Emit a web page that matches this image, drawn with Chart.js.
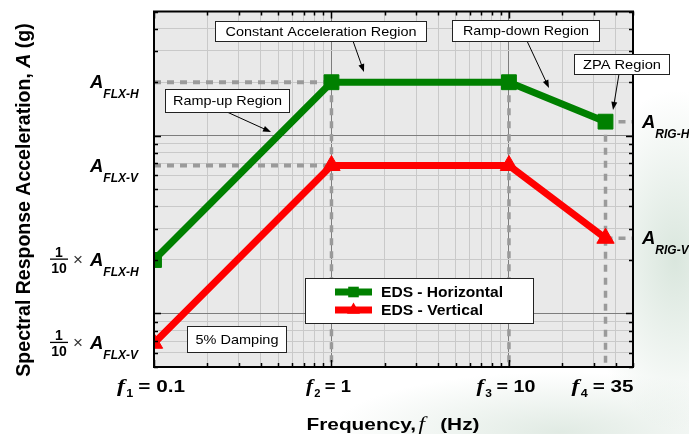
<!DOCTYPE html>
<html>
<head>
<meta charset="utf-8">
<script src="https://cdn.jsdelivr.net/npm/chart.js@4.4.0/dist/chart.umd.min.js"></script>
<style>
html, body { margin: 0; padding: 0; background: #fff; }
#wrap {
  position: relative; width: 689px; height: 434px;
  background:
    radial-gradient(ellipse 90px 170px at 675px 260px, rgba(205,222,210,0.75), rgba(255,255,255,0) 100%),
    radial-gradient(ellipse 230px 60px at 560px 432px, rgba(212,226,216,0.7), rgba(255,255,255,0) 100%),
    #fff;
}
</style>
</head>
<body>
<div id="wrap"><canvas id="rrs"></canvas></div>
<script>
// corner frequencies f1..f4 (Hz)
var freqs = [0.1, 1, 10, 35];
var freqNames = ['1', '2', '3', '4'];
var freqText = ['0.1', '1', '10', '35'];
// spectral acceleration (g) at f1..f4
var horizontal = [0.2, 2, 2, 1.2];
var vertical = [0.068, 0.68, 0.68, 0.265];
// axis limits
var xMin = 0.1, xMax = 50;
var yMin = 0.05, yMax = 5;

var SANS = '"Liberation Sans", Arial, sans-serif';
var SERIF = '"Liberation Serif", "Times New Roman", serif';
var GREEN = '#008000', RED = '#ff0000', DASH = '#9a9a9a';

function pts(xs, ys) { return xs.map(function (x, i) { return { x: x, y: ys[i] }; }); }

function decadeTicks(min, max) {
  var out = [];
  for (var e = Math.floor(Math.log10(min)); e <= Math.ceil(Math.log10(max)); e++) {
    for (var m = 1; m <= 9; m++) {
      var v = parseFloat((m * Math.pow(10, e)).toPrecision(6));
      if (v >= min * 0.9999 && v <= max * 1.0001) out.push({ value: v });
    }
  }
  return out;
}
function isDecade(v) { var l = Math.log10(v); return Math.abs(l - Math.round(l)) < 1e-6; }

function refLine(data, w) {
  return { data: data, borderColor: DASH, borderWidth: w, borderDash: [7, 6], pointRadius: 0 };
}

var datasets = [
  { label: 'EDS - Horizontal', data: pts(freqs, horizontal), borderColor: GREEN, backgroundColor: GREEN,
    borderWidth: 7, pointStyle: 'rect', pointRadius: 10.5, pointBorderWidth: 1 },
  { label: 'EDS - Vertical', data: pts(freqs, vertical), borderColor: RED, backgroundColor: RED,
    borderWidth: 7, pointStyle: 'triangle', pointRadius: 10, pointBorderWidth: 1 },
  refLine([{ x: xMin, y: horizontal[1] }, { x: freqs[1], y: horizontal[1] }], 4),
  refLine([{ x: xMin, y: vertical[1] }, { x: freqs[1], y: vertical[1] }], 4),
  refLine([{ x: freqs[1], y: horizontal[1] }, { x: freqs[1], y: yMin }], 3.5),
  refLine([{ x: freqs[2], y: horizontal[2] }, { x: freqs[2], y: yMin }], 3.5),
  refLine([{ x: freqs[3], y: horizontal[3] }, { x: freqs[3], y: yMin }], 3.5),
  refLine([{ x: freqs[3], y: horizontal[3] }, { x: xMax, y: horizontal[3] }], 3.5),
  refLine([{ x: freqs[3], y: vertical[3] }, { x: xMax, y: vertical[3] }], 3.5)
];

// acceleration labels beside the axes
var leftLabels = [
  { sub: 'FLX-H', value: horizontal[1], tenth: false },
  { sub: 'FLX-V', value: vertical[1], tenth: false },
  { sub: 'FLX-H', value: horizontal[0], tenth: true },
  { sub: 'FLX-V', value: vertical[0], tenth: true }
];
var rightLabels = [
  { sub: 'RIG-H', value: horizontal[3] },
  { sub: 'RIG-V', value: vertical[3] }
];

// callout boxes (pixel layout): box [x, y, w, h], text width, arrow [x1, y1, x2, y2]
var callouts = [
  { text: 'Constant Acceleration Region', box: [215, 21, 211, 20], tw: 191, arrow: [353, 41, 364, 72] },
  { text: 'Ramp-up Region', box: [165, 89, 124, 23], tw: 109, arrow: [227, 112, 271, 132] },
  { text: 'Ramp-down Region', box: [452, 20, 147, 21], tw: 126, arrow: [527, 41, 549, 88] },
  { text: 'ZPA Region', box: [574, 54, 95, 20], tw: 78, arrow: [619, 74, 613, 110] },
  { text: '5% Damping', box: [187, 326, 99, 26], tw: 83, arrow: null }
];

function runsWidth(ctx, runs) {
  var w = 0;
  runs.forEach(function (r) { ctx.font = r.font; w += ctx.measureText(r.text).width + (r.gap || 0); });
  return w;
}
function drawRuns(ctx, x, y, runs) {
  runs.forEach(function (r) {
    ctx.font = r.font;
    ctx.fillText(r.text, x, y + (r.dy || 0));
    x += ctx.measureText(r.text).width + (r.gap || 0);
  });
  return x;
}
// draw runs centred on cx, stretched horizontally to a given width
function drawStretched(ctx, cx, y, runs, width) {
  var w = runsWidth(ctx, runs), sx = width / w;
  ctx.save();
  ctx.translate(cx, y); ctx.scale(sx, 1);
  drawRuns(ctx, -w / 2, 0, runs);
  ctx.restore();
}

function drawArrow(ctx, a) {
  var x1 = a[0], y1 = a[1], x2 = a[2], y2 = a[3];
  var ang = Math.atan2(y2 - y1, x2 - x1), L = 8, W = 3;
  ctx.strokeStyle = '#000'; ctx.lineWidth = 1;
  ctx.beginPath(); ctx.moveTo(x1, y1);
  ctx.lineTo(x2 - Math.cos(ang) * L * 0.8, y2 - Math.sin(ang) * L * 0.8); ctx.stroke();
  ctx.fillStyle = '#000';
  ctx.beginPath();
  ctx.moveTo(x2, y2);
  ctx.lineTo(x2 - Math.cos(ang) * L + Math.sin(ang) * W, y2 - Math.sin(ang) * L - Math.cos(ang) * W);
  ctx.lineTo(x2 - Math.cos(ang) * L - Math.sin(ang) * W, y2 - Math.sin(ang) * L + Math.cos(ang) * W);
  ctx.closePath(); ctx.fill();
}

function drawALabel(ctx, x, y, sub) {
  return drawRuns(ctx, x, y + 6, [
    { text: 'A', font: 'italic bold 18.5px ' + SANS },
    { text: sub, font: 'italic bold 12px ' + SANS, dy: 10 }
  ]);
}

var decor = {
  id: 'decor',
  beforeDraw: function (chart) {
    var a = chart.chartArea, ctx = chart.ctx;
    ctx.save(); ctx.fillStyle = '#e9e9e9';
    ctx.fillRect(a.left, a.top, a.right - a.left, a.bottom - a.top);
    ctx.restore();
  },
  afterDraw: function (chart) {
    var a = chart.chartArea, ctx = chart.ctx, xs = chart.scales.x, ys = chart.scales.y;
    ctx.save();
    // inward tick marks on all four sides
    ctx.strokeStyle = '#000'; ctx.lineWidth = 1.5;
    ctx.beginPath();
    decadeTicks(xMin, xMax).forEach(function (t) {
      var px = Math.round(xs.getPixelForValue(t.value)) + 0.5, len = isDecade(t.value) ? 7 : 4;
      ctx.moveTo(px, a.bottom); ctx.lineTo(px, a.bottom - len);
      ctx.moveTo(px, a.top); ctx.lineTo(px, a.top + len);
    });
    decadeTicks(yMin, yMax).forEach(function (t) {
      var py = Math.round(ys.getPixelForValue(t.value)) + 0.5, len = isDecade(t.value) ? 7 : 4;
      ctx.moveTo(a.left, py); ctx.lineTo(a.left + len, py);
      ctx.moveTo(a.right, py); ctx.lineTo(a.right - len, py);
    });
    ctx.stroke();
    // frame
    ctx.lineWidth = 2;
    ctx.strokeRect(a.left, a.top, a.right - a.left, a.bottom - a.top);

    ctx.fillStyle = '#000'; ctx.textBaseline = 'alphabetic'; ctx.textAlign = 'left';
    // left acceleration labels
    leftLabels.forEach(function (l) {
      var py = ys.getPixelForValue(l.value);
      if (l.tenth) {
        ctx.font = 'bold 14px ' + SANS; ctx.textAlign = 'center';
        ctx.fillText('1', 59, py - 3);
        ctx.fillText('10', 59, py + 13);
        ctx.fillRect(50, py - 1.5, 18, 1.3);
        ctx.font = '17px ' + SANS; ctx.fillStyle = '#333';
        ctx.fillText('\u00d7', 78, py + 5);
        ctx.fillStyle = '#000'; ctx.textAlign = 'left';
      }
      drawALabel(ctx, 90, py, l.sub);
    });
    // right acceleration labels
    rightLabels.forEach(function (l) {
      drawALabel(ctx, 642, ys.getPixelForValue(l.value), l.sub);
    });
    // frequency labels
    var labelWidths = [68, 45, 59, 62];
    freqs.forEach(function (f, i) {
      var runs = [
        { text: 'f', font: 'italic bold 19px ' + SERIF, gap: 1 },
        { text: freqNames[i], font: 'bold 10px ' + SANS, dy: 5, gap: 4 },
        { text: '= ' + freqText[i], font: 'bold 16.5px ' + SANS }
      ];
      drawStretched(ctx, xs.getPixelForValue(f) - 3, 392, runs, labelWidths[i]);
    });
    // x axis title
    drawStretched(ctx, 393, 430, [
      { text: 'Frequency,', font: 'bold 17px ' + SANS, gap: 2 },
      { text: 'f', font: 'italic 19px ' + SERIF, gap: 3 },
      { text: '  (Hz)', font: 'bold 17px ' + SANS }
    ], 173);
    // y axis title
    ctx.save();
    ctx.translate(30, 200); ctx.rotate(-Math.PI / 2);
    var yr = [
      { text: 'Spectral Response Acceleration, ', font: 'bold 17px ' + SANS },
      { text: 'A', font: 'italic bold 17px ' + SANS },
      { text: ' (g)', font: 'bold 17px ' + SANS }
    ];
    var k = 354 / runsWidth(ctx, yr);
    yr.forEach(function (r) { r.font = r.font.replace('17px', (17 * k).toFixed(1) + 'px'); });
    drawRuns(ctx, -runsWidth(ctx, yr) / 2, 0, yr);
    ctx.restore();

    // callouts
    callouts.forEach(function (c) {
      var b = c.box;
      if (c.arrow) drawArrow(ctx, c.arrow);
      ctx.fillStyle = '#fff'; ctx.fillRect(b[0], b[1], b[2], b[3]);
      ctx.strokeStyle = '#222'; ctx.lineWidth = 1;
      ctx.strokeRect(b[0] + 0.5, b[1] + 0.5, b[2], b[3]);
      ctx.fillStyle = '#000'; ctx.textBaseline = 'middle';
      drawStretched(ctx, b[0] + b[2] / 2 + 0.5, b[1] + b[3] / 2 + 1,
        [{ text: c.text, font: '13px ' + SANS }], c.tw);
    });

    // legend
    ctx.fillStyle = '#fff'; ctx.fillRect(305, 278, 228, 45);
    ctx.strokeStyle = '#222'; ctx.lineWidth = 1; ctx.strokeRect(305.5, 278.5, 228, 45);
    var legendWidths = [122, 102];
    [0, 1].forEach(function (i) {
      var ds = chart.data.datasets[i], yy = i === 0 ? 292 : 310;
      ctx.strokeStyle = ds.borderColor; ctx.lineWidth = 7;
      ctx.beginPath(); ctx.moveTo(335, yy); ctx.lineTo(372, yy); ctx.stroke();
      ctx.fillStyle = ds.backgroundColor;
      Chart.helpers.drawPoint(ctx, { pointStyle: ds.pointStyle, radius: 7.5, borderWidth: 0, rotation: 0 }, 353.5, yy);
      ctx.fillStyle = '#000'; ctx.textBaseline = 'middle';
      drawStretched(ctx, 381 + legendWidths[i] / 2, yy + 1,
        [{ text: ds.label, font: 'bold 14.5px ' + SANS }], legendWidths[i]);
    });
    ctx.restore();
  }
};

function axis(min, max) {
  return {
    type: 'logarithmic', min: min, max: max,
    afterBuildTicks: function (s) { s.ticks = decadeTicks(min, max); },
    ticks: { display: false },
    border: { display: false },
    grid: {
      drawTicks: false, lineWidth: 1,
      color: function (c) { return c.tick && isDecade(c.tick.value) ? '#7d7d7d' : '#c9c9c9'; }
    }
  };
}

new Chart(document.getElementById('rrs'), {
  type: 'line',
  data: { datasets: datasets },
  plugins: [decor],
  options: {
    responsive: true,
    maintainAspectRatio: false,
    animation: false,
    parsing: false,
    layout: { padding: { left: 154, right: 56, top: 7, bottom: 67 } },
    plugins: { legend: { display: false }, tooltip: { enabled: false } },
    elements: { line: { tension: 0, borderJoinStyle: 'miter' } },
    scales: { x: axis(xMin, xMax), y: axis(yMin, yMax) }
  }
});
</script>
</body>
</html>
